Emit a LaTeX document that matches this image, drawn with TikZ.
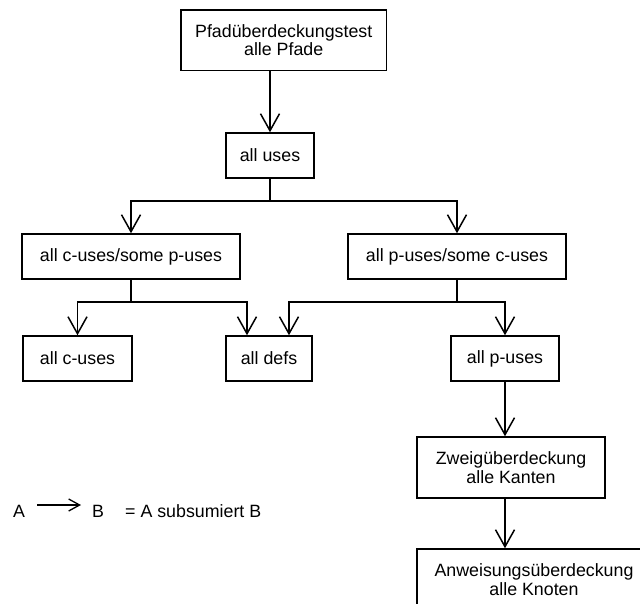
\documentclass[tikz,border=0pt]{standalone}
\usepackage{fontspec}
\setmainfont{Liberation Sans}
\usetikzlibrary{arrows.meta}

\begin{document}
\begin{tikzpicture}[
  x=1pt, y=-1pt,
  font=\fontsize{17.8}{18.3}\selectfont,
  box/.style={draw, line width=1.5pt, align=center, inner sep=0pt, minimum height=45pt},
  arr/.style={line width=1.5pt, -{Straight Barb[length=17pt,width=19pt]}},
  stem/.style={line width=2.6pt},
  legarr/.style={line width=1.3pt, -{Straight Barb[length=11pt,width=12pt]}},
  legend/.style={anchor=base west, inner sep=0pt}]
\useasboundingbox (0,0) rectangle (640,604);
\clip (0,0) rectangle (640,604);
\node[box, minimum width=205.5pt, minimum height=60.5pt] (pfad) at (283.7,40.3) {Pfadüberdeckungstest\\alle Pfade};
\node[box, minimum width=88pt] (uses) at (270,155.5) {all uses};
\node[box, minimum width=218pt] (cp) at (131,256.5) {all c-uses/some p-uses};
\node[box, minimum width=218pt] (pc) at (457,256.5) {all p-uses/some c-uses};
\node[box, minimum width=109pt] (cuses) at (77.5,358.5) {all c-uses};
\node[box, minimum width=86pt] (defs) at (269,358.5) {all defs};
\node[box, minimum width=108pt] (puses) at (505,358.5) {all p-uses};
\node[box, minimum width=188pt, minimum height=61pt] (zweig) at (511,467.5) {Zweigüberdeckung\\alle Kanten};
\node[box, minimum width=234pt, minimum height=61pt] (anw) at (534,579.5) {Anweisungsüberdeckung\\alle Knoten};

\draw[arr] (pfad.south -| uses.north) -- (uses.north);
\coordinate (j0) at (270,201);
\draw[line width=1.5pt] (uses.south) -- (j0);
\draw[arr] (j0) -| (cp.north);
\draw[arr] (j0) -| (pc.north);
\coordinate (j1) at (131,302);
\draw[stem] (cp.south) -- (j1);
\draw[arr] (j1) -| (cuses.north);
\draw[arr] (j1) -| ([xshift=-22pt]defs.north);
\coordinate (j2) at (457,302);
\draw[stem] (pc.south) -- (j2);
\draw[arr] (j2) -| ([xshift=20pt]defs.north);
\draw[arr] (j2) -| (puses.north);
\draw[arr] (puses.south) -- (puses.south |- zweig.north);
\draw[arr] (zweig.south -| puses.south) -- (anw.north -| puses.south);

% legend
\node[legend] (la) at (13,517.7) {A};
\node[legend] (lb) at (92,517.7) {B};
\node[legend] (leq) at (125,517.7) {= A subsumiert B};
\draw[legarr] ([shift={(12,-12.7)}]la.base east) -- ([shift={(-11,-12.7)}]lb.base west);
\end{tikzpicture}
\end{document}
